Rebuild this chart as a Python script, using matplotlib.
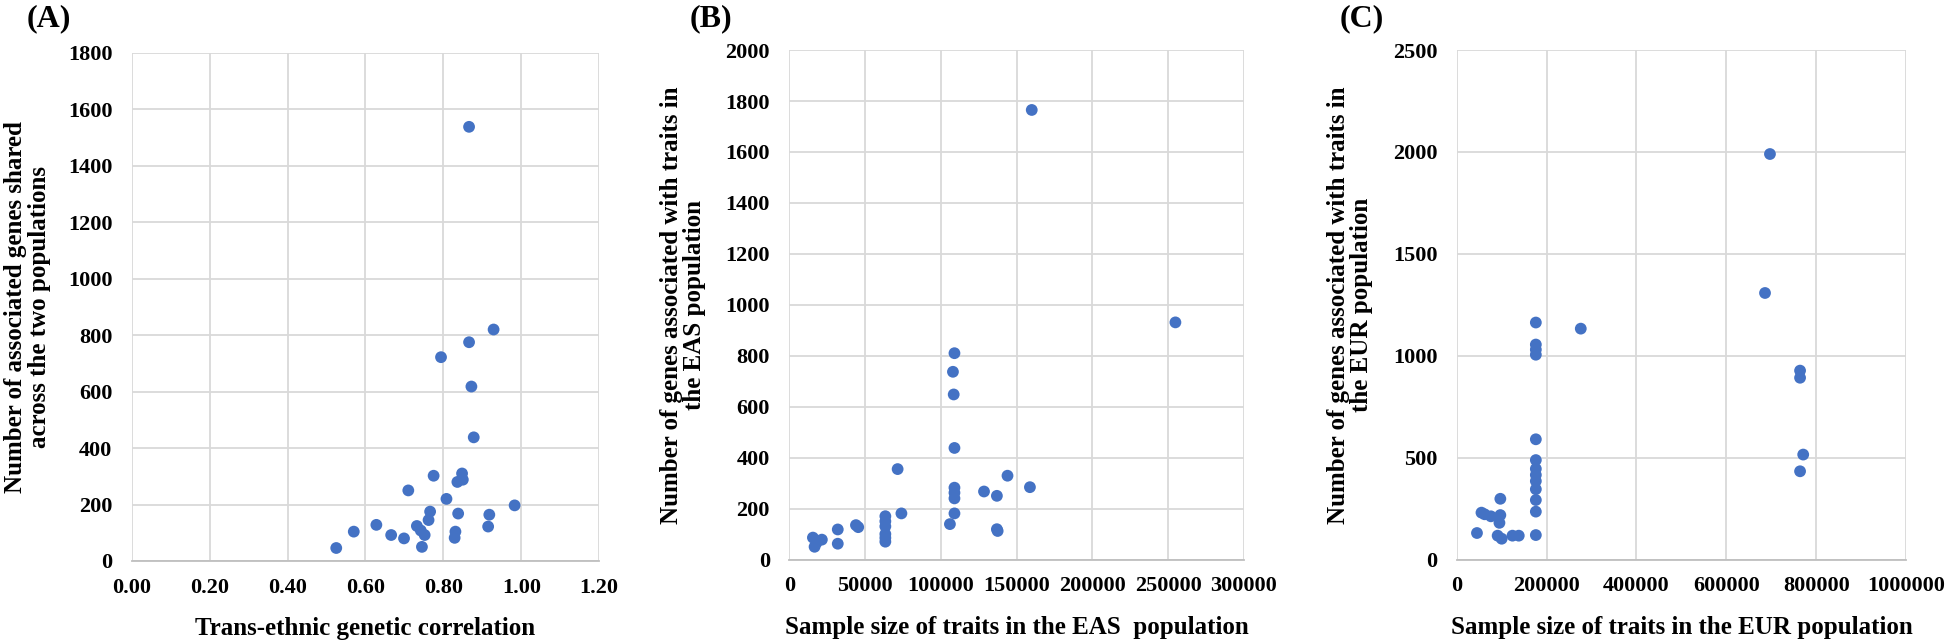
import matplotlib
matplotlib.use('Agg')
import matplotlib.pyplot as plt
from matplotlib.ticker import FuncFormatter

# (A) trans-ethnic genetic correlation vs shared genes
rg_a = [0.525, 0.570, 0.628, 0.666, 0.699, 0.710, 0.732, 0.742, 0.752, 0.745,
        0.762, 0.766, 0.775, 0.808, 0.838, 0.831, 0.829, 0.836, 0.848, 0.850,
        0.918, 0.915, 0.983, 0.878, 0.872, 0.866, 0.794, 0.929, 0.866]
shared_a = [46, 104, 128, 92, 80, 250, 124, 108, 92, 50,
            145, 175, 302, 220, 168, 104, 82, 280, 310, 288,
            164, 122, 197, 438, 618, 775, 722, 820, 1538]

# (B) EAS sample size vs genes
n_eas = [15600, 16700, 21500, 18000, 32000, 32000, 44000, 45500,
         63400, 63400, 63400, 63400, 63400, 63400,
         74000, 71500, 106000, 109000, 109000, 109000, 109000, 109000,
         108500, 108000, 109000, 128500, 137000, 137000, 137500,
         144000, 158800, 160000, 254800]
genes_eas = [86, 50, 78, 66, 118, 62, 135, 127,
             170, 150, 130, 100, 85, 70,
             181, 355, 139, 181, 240, 262, 282, 438,
             648, 737, 810, 267, 250, 119, 112,
             329, 284, 1765, 931]

# (C) EUR sample size vs genes
n_eur = [45000, 55000, 62000, 76000, 97000, 97000, 95000, 91000, 100000,
         124000, 138000,
         176000, 176000, 176000, 176000, 176000, 176000, 176000, 176000,
         176000, 176000, 176000, 176000, 176000,
         276000, 686000, 697000, 764000, 764000, 771000, 764000]
genes_eur = [130, 230, 222, 212, 298, 218, 180, 117, 102,
             117, 117,
             120, 235, 292, 345, 385, 415, 445, 488,
             590, 1005, 1030, 1055, 1163,
             1133, 1308, 1990, 927, 892, 515, 433]

plt.rcParams['font.family'] = ['Liberation Serif', 'DejaVu Serif']
plt.rcParams['font.weight'] = 'bold'

blue = '#4472C4'
grid_c = '#d9d9d9'

fig = plt.figure(figsize=(19.58, 6.44), dpi=100)
ax_a = fig.add_axes([0.0673, 0.1289, 0.2387, 0.789])
ax_b = fig.add_axes([0.4031, 0.1312, 0.2322, 0.791])
ax_c = fig.add_axes([0.7440, 0.1312, 0.2295, 0.791])


def style(ax, xmax, xstep, ymax, ystep, fmt):
    ax.set_xlim(0, xmax)
    ax.set_ylim(0, ymax)
    nx = int(round(xmax / xstep))
    ny = int(round(ymax / ystep))
    ax.set_xticks([i * xstep for i in range(nx + 1)])
    ax.set_yticks([i * ystep for i in range(ny + 1)])
    ax.xaxis.set_major_formatter(FuncFormatter(fmt))
    ax.yaxis.set_major_formatter(FuncFormatter(lambda v, p: '%d' % v))
    ax.grid(True, color=grid_c, linewidth=1.3, zorder=0)
    ax.set_axisbelow(True)
    for s in ['top', 'right', 'left']:
        ax.spines[s].set_visible(False)
    ax.spines['bottom'].set_color('#bfbfbf')
    ax.spines['bottom'].set_linewidth(1.3)
    ax.tick_params(length=0, labelsize=16)
    ax.tick_params(axis='x', pad=12)
    ax.tick_params(axis='y', pad=14)
    for lab in ax.get_xticklabels() + ax.get_yticklabels():
        lab.set_fontweight('bold')


ax_a.scatter(rg_a, shared_a, s=72, color=blue, edgecolors='none', zorder=3)
style(ax_a, 1.2, 0.2, 1800, 200, lambda v, p: '%.2f' % v)
ax_a.set_xlabel('Trans-ethnic genetic correlation', fontsize=18,
                fontweight='bold', labelpad=14)
ax_a.set_ylabel('Number of associated genes shared\nacross the two populations',
                fontsize=18, fontweight='bold', labelpad=12, linespacing=1.05)

ax_b.scatter(n_eas, genes_eas, s=72, color=blue, edgecolors='none', zorder=3)
style(ax_b, 300000, 50000, 2000, 200, lambda v, p: '%d' % v)
ax_b.set_xlabel('Sample size of traits in the EAS  population', fontsize=18,
                fontweight='bold', labelpad=14)
ax_b.set_ylabel('Number of genes associated with traits in\nthe EAS population',
                fontsize=18, fontweight='bold', labelpad=14, linespacing=1.0)

ax_c.scatter(n_eur, genes_eur, s=72, color=blue, edgecolors='none', zorder=3)
style(ax_c, 1000000, 200000, 2500, 500, lambda v, p: '%d' % v)
ax_c.set_xlabel('Sample size of traits in the EUR population', fontsize=18,
                fontweight='bold', labelpad=14)
ax_c.set_ylabel('Number of genes associated with traits in\nthe EUR population',
                fontsize=18, fontweight='bold', labelpad=14, linespacing=1.0)

fig.text(27 / 1958, 1 - 4 / 644, '(A)', fontsize=23, fontweight='bold', va='top')
fig.text(690 / 1958, 1 - 4 / 644, '(B)', fontsize=23, fontweight='bold', va='top')
fig.text(1340 / 1958, 1 - 4 / 644, '(C)', fontsize=23, fontweight='bold', va='top')

fig.savefig('out.png', dpi=100)
